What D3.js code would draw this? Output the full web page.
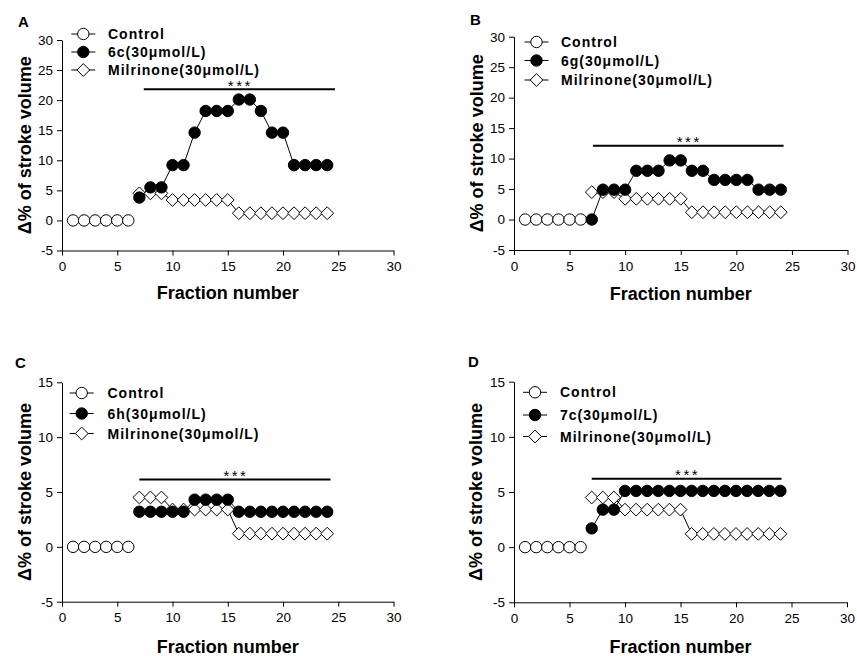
<!DOCTYPE html>
<html>
<head>
<meta charset="utf-8">
<script src="https://cdn.jsdelivr.net/npm/d3@7"></script>
<style>
  body { margin: 0; background: #fff; }
  svg { display: block; font-family: "Liberation Sans", Arial, sans-serif; }
</style>
</head>
<body>
<div id="chart"></div>
<script>
// fraction numbers
const controlFractions = [1, 2, 3, 4, 5, 6];
const treatFractions = [7, 8, 9, 10, 11, 12, 13, 14, 15, 16, 17, 18, 19, 20, 21, 22, 23, 24];

// control series (same in every panel)
const controlValues = [0, 0, 0, 0, 0, 0];

// milrinone series (same reference in every panel)
const milrinoneValues = [4.5, 4.5, 4.5, 3.4, 3.4, 3.4, 3.4, 3.4, 3.4, 1.2, 1.2, 1.2, 1.2, 1.2, 1.2, 1.2, 1.2, 1.2];

// compound series
const values6c = [3.8, 5.5, 5.5, 9.2, 9.2, 14.6, 18.2, 18.2, 18.2, 20.1, 20.1, 18.2, 14.6, 14.6, 9.2, 9.2, 9.2, 9.2];
const values6g = [0, 4.9, 4.9, 4.9, 8.0, 8.0, 8.0, 9.7, 9.7, 8.0, 8.0, 6.5, 6.5, 6.5, 6.5, 4.9, 4.9, 4.9];
const values6h = [3.2, 3.2, 3.2, 3.2, 3.2, 4.3, 4.3, 4.3, 4.3, 3.2, 3.2, 3.2, 3.2, 3.2, 3.2, 3.2, 3.2, 3.2];
const values7c = [1.7, 3.4, 3.4, 5.1, 5.1, 5.1, 5.1, 5.1, 5.1, 5.1, 5.1, 5.1, 5.1, 5.1, 5.1, 5.1, 5.1, 5.1];

// labels
const panelLetters = ["A", "B", "C", "D"];
const compoundNames = ["6c(30\u03bcmol/L)", "6g(30\u03bcmol/L)", "6h(30\u03bcmol/L)", "7c(30\u03bcmol/L)"];
const controlName = "Control";
const milrinoneName = "Milrinone(30\u03bcmol/L)";
const xTicks = [0, 5, 10, 15, 20, 25, 30];
const yTicksTall = [-5, 0, 5, 10, 15, 20, 25, 30];
const yTicksShort = [-5, 0, 5, 10, 15];
const yDomains = [[-5, 30], [-5, 30], [-5, 15], [-5, 15]];

// significance bars: [from, to, level]
const sigBars = [[7.4, 24.7, 21.8], [7.1, 24.25, 12.1], [7.0, 24.3, 6.15], [7.0, 24.1, 6.2]];
const sigText = "***";

const width = 857, height = 656;

const svg = d3.select("#chart").append("svg")
    .attr("width", width)
    .attr("height", height);

// pixel frames of each panel (axis extents), legends and titles
const frames = [
    {x0: 62, x1: 393.5, yTop: 40, yBot: 250.5, letter: [18, 27], legX: 83.3, legRows: [34, 52, 70], legText: 108, yLab: 31, xLab: 299},
    {x0: 514, x1: 847.5, yTop: 36.7, yBot: 250, letter: [470, 25], legX: 536.5, legRows: [42, 60.5, 80], legText: 561, yLab: 483, xLab: 300},
    {x0: 62, x1: 393.5, yTop: 382.3, yBot: 601.7, letter: [15, 368], legX: 81.7, legRows: [393, 413.5, 433.5], legText: 107.5, yLab: 31, xLab: 653},
    {x0: 514, x1: 847, yTop: 381.7, yBot: 602.3, letter: [468, 367], legX: 535, legRows: [392.3, 415, 436.5], legText: 560, yLab: 482, xLab: 653}
];

const compoundSeries = [values6c, values6g, values6h, values7c];

function diamondPath(r) {
    return `M0,${-r}L${r},0L0,${r}L${-r},0Z`;
}

function drawMarker(g, type) {
    if (type === "diamond") {
        g.append("path").attr("d", diamondPath(6.4))
            .attr("fill", "#fff").attr("stroke", "#000").attr("stroke-width", 1);
    } else {
        g.append("circle").attr("r", 5.7)
            .attr("fill", type === "filled" ? "#000" : "#fff")
            .attr("stroke", "#000").attr("stroke-width", 1);
    }
}

function drawSeries(g, x, y, xs, ys, type) {
    const pts = xs.map((f, i) => [f, ys[i]]);
    const line = d3.line().x(d => x(d[0])).y(d => y(d[1]));
    g.append("path")
        .attr("d", line(pts))
        .attr("fill", "none")
        .attr("stroke", "#000")
        .attr("stroke-width", 1);
    g.selectAll(null)
        .data(pts)
        .join("g")
        .attr("transform", d => `translate(${x(d[0])},${y(d[1])})`)
        .each(function() { drawMarker(d3.select(this), type); });
}

function drawPanel(i) {
    const fr = frames[i];
    const g = svg.append("g");

    const x = d3.scaleLinear().domain([0, 30]).range([fr.x0, fr.x1]);
    const y = d3.scaleLinear().domain(yDomains[i]).range([fr.yBot, fr.yTop]);
    const yTicks = yDomains[i][1] === 30 ? yTicksTall : yTicksShort;

    const xAxis = g.append("g")
        .attr("transform", `translate(0,${fr.yBot})`)
        .call(d3.axisBottom(x).tickValues(xTicks).tickSize(5).tickSizeOuter(0).tickPadding(6));
    const yAxis = g.append("g")
        .attr("transform", `translate(${fr.x0},0)`)
        .call(d3.axisLeft(y).tickValues(yTicks).tickSize(5).tickSizeOuter(0).tickPadding(4)
            .tickFormat(d3.format("d")));

    [xAxis, yAxis].forEach(a => {
        a.selectAll("path, line").attr("stroke", "#000").attr("stroke-width", 1);
        a.selectAll("text").attr("font-size", 13.5).attr("fill", "#000")
            .attr("font-family", "Liberation Sans, Arial, sans-serif");
    });
    yAxis.selectAll("text").text(d => d < 0 ? "-" + Math.abs(d) : d);

    // axis titles
    g.append("text")
        .attr("x", (fr.x0 + fr.x1) / 2)
        .attr("y", fr.xLab)
        .attr("text-anchor", "middle")
        .attr("font-size", 18)
        .attr("font-weight", "bold")
        .text("Fraction number");

    g.append("text")
        .attr("transform", `translate(${fr.yLab},${(fr.yTop + fr.yBot) / 2}) rotate(-90)`)
        .attr("text-anchor", "middle")
        .attr("font-size", 18)
        .attr("font-weight", "bold")
        .text("\u0394% of stroke volume");

    // panel letter
    g.append("text")
        .attr("x", fr.letter[0])
        .attr("y", fr.letter[1])
        .attr("font-size", 15)
        .attr("font-weight", "bold")
        .text(panelLetters[i]);

    // significance bar
    const sb = sigBars[i];
    g.append("line")
        .attr("x1", x(sb[0])).attr("x2", x(sb[1]))
        .attr("y1", y(sb[2])).attr("y2", y(sb[2]))
        .attr("stroke", "#000").attr("stroke-width", 2);
    g.append("text")
        .attr("x", (x(sb[0]) + x(sb[1])) / 2 + 1)
        .attr("y", y(sb[2]) + 1.5)
        .attr("text-anchor", "middle")
        .attr("font-size", 15)
        .attr("letter-spacing", 2.5)
        .text(sigText);

    // data
    drawSeries(g, x, y, controlFractions, controlValues, "open");
    drawSeries(g, x, y, treatFractions, milrinoneValues, "diamond");
    drawSeries(g, x, y, treatFractions, compoundSeries[i], "filled");

    // legend
    const items = [[controlName, "open"], [compoundNames[i], "filled"], [milrinoneName, "diamond"]];
    items.forEach((it, k) => {
        const ly = fr.legRows[k];
        const lg = g.append("g").attr("transform", `translate(${fr.legX},${ly})`);
        lg.append("line").attr("x1", -12).attr("x2", 12)
            .attr("stroke", "#000").attr("stroke-width", 1);
        drawMarker(lg, it[1]);
        g.append("text")
            .attr("x", fr.legText)
            .attr("y", ly + 5)
            .attr("font-size", 14)
            .attr("font-weight", "bold")
            .attr("letter-spacing", 1)
            .text(it[0]);
    });
}

[0, 1, 2, 3].forEach(drawPanel);
</script>
</body>
</html>
